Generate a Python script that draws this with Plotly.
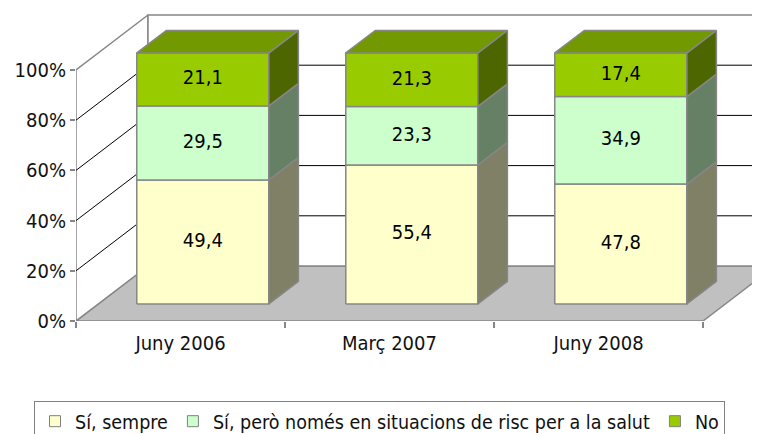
import plotly.graph_objects as go

# ---------------- data ----------------
categories = ["Juny 2006", "Març 2007", "Juny 2008"]
series_names = ["Sí, sempre", "Sí, però només en situacions de risc per a la salut", "No"]
si_sempre = [49.4, 55.4, 47.8]
si_risc = [29.5, 23.3, 34.9]
no_vals = [21.1, 21.3, 17.4]
y_ticks = [0, 20, 40, 60, 80, 100]
y_tick_labels = ["0%", "20%", "40%", "60%", "80%", "100%"]

# ---------------- style ----------------
FONT = "Liberation Sans Narrow, Arial Narrow, DejaVu Sans Condensed, sans-serif"
front_colors = ["#FFFFCC", "#CCFFCC", "#99CC00"]
side_colors = ["#808066", "#668066", "#4D6600"]
top_colors = ["#BFBF99", "#99BF99", "#739900"]
EDGE = "#868686"
TXT = "#111111"

W, H = 760, 434
ML, MT, MB = 68, 0, 121
PX_PER_CAT = 209.0
PX_PER_PCT = 2.51
DEPTH_PX_X, DEPTH_PX_Y = 72.0, 55.0
DX = DEPTH_PX_X / PX_PER_CAT          # depth shift in category units
DY = DEPTH_PX_Y / PX_PER_PCT          # depth shift in % units
D0, D1 = 0.31, 0.72                   # bar front / back depth fractions
BW = 0.632                            # bar width (category units)
NCAT = len(categories)
XMAX = (W - ML) / PX_PER_CAT
YMAX = (H - MB - MT) / PX_PER_PCT

fig = go.Figure()


def poly(xs, ys, fill, width=1.5, color=EDGE):
    fig.add_trace(go.Scatter(
        x=list(xs) + [xs[0]], y=list(ys) + [ys[0]], mode="lines", fill="toself",
        fillcolor=fill, line=dict(color=color, width=width),
        hoverinfo="skip", showlegend=False))


def line(xs, ys, color="#000000", width=1):
    fig.add_trace(go.Scatter(x=xs, y=ys, mode="lines", line=dict(color=color, width=width),
                             hoverinfo="skip", showlegend=False))


# floor, left wall, back wall
poly([0, NCAT, NCAT + DX, DX], [0, 0, DY, DY], "#C0C0C0")
poly([0, DX, DX, 0], [0, DY, 100 + DY, 100], "#FFFFFF")
poly([DX, NCAT + DX, NCAT + DX, DX], [DY, DY, 100 + DY, 100 + DY], "#FFFFFF")

# gridlines
for v in y_ticks[1:-1]:
    line([0, DX, NCAT + DX], [v, v + DY, v + DY])

# bars
series = [si_sempre, si_risc, no_vals]
for i in range(NCAT):
    vals = [s[i] for s in series]
    total = sum(vals)
    xl = i + 0.5 - BW / 2 + D0 * DX
    xr = xl + BW
    ddx = (D1 - D0) * DX
    ddy = (D1 - D0) * DY
    base = 0.0
    for j, v in enumerate(vals):
        lo = base / total * 100 + D0 * DY
        hi = (base + v) / total * 100 + D0 * DY
        poly([xl, xr, xr, xl], [lo, lo, hi, hi], front_colors[j])
        poly([xr, xr + ddx, xr + ddx, xr], [lo, lo + ddy, hi + ddy, hi], side_colors[j])
        if j == len(vals) - 1:
            poly([xl, xr, xr + ddx, xl + ddx], [hi, hi, hi + ddy, hi + ddy], top_colors[j])
        fig.add_trace(go.Scatter(
            x=[(xl + xr) / 2], y=[(lo + hi) / 2], mode="text",
            text=[f"{v:.1f}".replace(".", ",")],
            textfont=dict(family=FONT, size=20, color="#000000"),
            hoverinfo="skip", showlegend=False))
        base += v

# legend entries
for name, c in zip(series_names, front_colors):
    fig.add_trace(go.Scatter(x=[None], y=[None], mode="markers", name=name,
                             marker=dict(symbol="square", size=11, color=c,
                                         line=dict(color="#808080", width=1))))

# category label axis carrier
fig.add_trace(go.Scatter(x=[None], y=[None], xaxis="x2", showlegend=False, hoverinfo="skip"))

fig.update_layout(
    width=W, height=H,
    margin=dict(l=ML, r=0, t=MT, b=MB, pad=0),
    paper_bgcolor="#FFFFFF", plot_bgcolor="rgba(0,0,0,0)",
    font=dict(family=FONT, size=20, color=TXT),
    xaxis=dict(range=[0, XMAX], tickvals=list(range(NCAT + 1)), ticks="outside",
               ticklen=6, tickwidth=1.5, tickcolor=EDGE, showticklabels=False,
               showgrid=False, zeroline=False, showline=False, fixedrange=True),
    xaxis2=dict(range=[0, XMAX], overlaying="x", side="bottom", anchor="y",
                tickvals=[i + 0.5 for i in range(NCAT)], ticktext=categories,
                ticks="", showgrid=False, zeroline=False, showline=False,
                tickfont=dict(family=FONT, size=20, color=TXT),
                ticklabelstandoff=8, fixedrange=True),
    yaxis=dict(range=[0, YMAX], tickvals=y_ticks, ticktext=y_tick_labels,
               ticks="outside", ticklen=5, tickwidth=1.5, tickcolor=EDGE,
               showgrid=False, zeroline=False, showline=False,
               tickfont=dict(family=FONT, size=20, color=TXT), fixedrange=True),
    showlegend=True,
    legend=dict(orientation="h", xref="container", yref="container",
                x=26 / W, xanchor="left", y=1 - 393 / H, yanchor="top",
                bordercolor="#808080", borderwidth=1, bgcolor="#FFFFFF",
                font=dict(family=FONT, size=19.5, color=TXT),
                itemwidth=30, tracegroupgap=0),
)

fig.write_html("out.html")
